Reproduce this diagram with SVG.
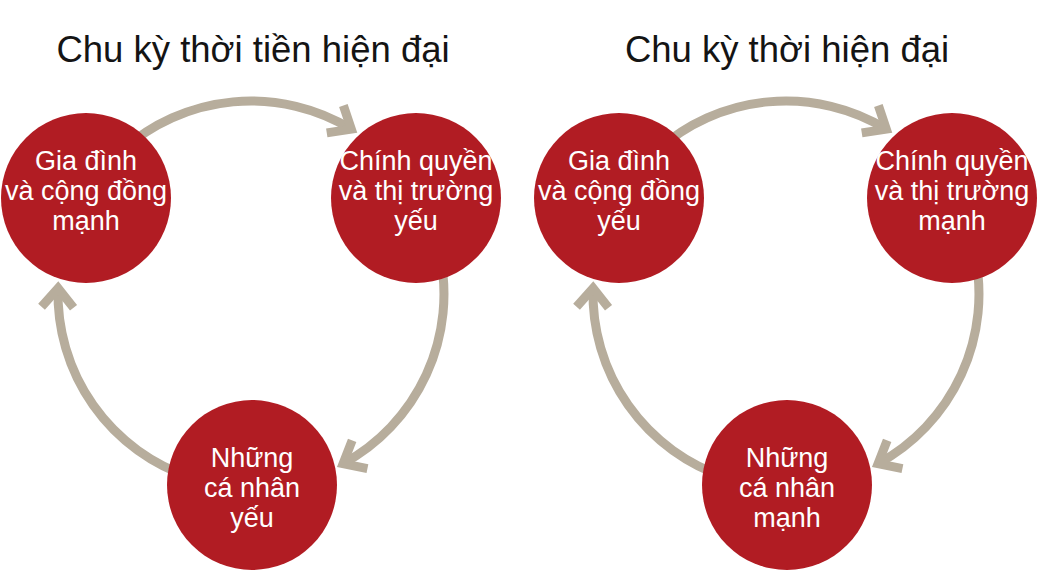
<svg xmlns="http://www.w3.org/2000/svg" width="1038" height="571" viewBox="0 0 1038 571">
<style>
.title{font-family:"Liberation Sans",Arial,sans-serif;font-size:36.5px;fill:#141414;text-anchor:middle}
.node circle{fill:#b11c23}
.node text{font-family:"Liberation Sans",Arial,sans-serif;font-size:27px;fill:#ffffff;text-anchor:middle}
.arc{fill:none;stroke:#b7ad9c;stroke-width:9;marker-end:url(#chev)}
</style>
<defs>
<marker id="chev" markerUnits="userSpaceOnUse" orient="auto" refX="0" refY="0" markerWidth="60" markerHeight="60" overflow="visible">
<path d="M -19,-16 L 0,0 L -19,16" fill="none" stroke="#b7ad9c" stroke-width="9" stroke-linejoin="miter" stroke-miterlimit="10"/>
</marker>
</defs>
<rect width="1038" height="571" fill="#ffffff"/>
<text class="title" x="253" y="62">Chu kỳ thời tiền hiện đại</text>
<text class="title" x="787" y="62">Chu kỳ thời hiện đại</text>
<g id="connectors">
<path class="arc" d="M 121.9,150.6 A 193 193 0 0 1 351.3,129.1"/>
<path class="arc" d="M 439.6,253.2 A 193 193 0 0 1 343.1,463.6"/>
<path class="arc" d="M 191.4,477.6 A 193 193 0 0 1 58.1,288.3"/>
<g transform="translate(535,0)">
<path class="arc" d="M 121.9,150.6 A 193 193 0 0 1 351.3,129.1"/>
<path class="arc" d="M 439.6,253.2 A 193 193 0 0 1 343.1,463.6"/>
<path class="arc" d="M 191.4,477.6 A 193 193 0 0 1 58.1,288.3"/>
</g>
</g>
<g id="node-l1" class="node"><circle cx="86" cy="198" r="85"/>
<text x="86" y="170">Gia đình</text><text x="86" y="200">và cộng đồng</text><text x="86" y="230">mạnh</text></g>
<g id="node-l2" class="node"><circle cx="416" cy="198" r="85"/>
<text x="416" y="170">Chính quyền</text><text x="416" y="200">và thị trường</text><text x="416" y="230">yếu</text></g>
<g id="node-l3" class="node"><circle cx="252" cy="485" r="85"/>
<text x="252" y="467">Những</text><text x="252" y="497">cá nhân</text><text x="252" y="527">yếu</text></g>
<g id="node-r1" class="node"><circle cx="619" cy="198" r="85"/>
<text x="619" y="170">Gia đình</text><text x="619" y="200">và cộng đồng</text><text x="619" y="230">yếu</text></g>
<g id="node-r2" class="node"><circle cx="952" cy="198" r="85"/>
<text x="952" y="170">Chính quyền</text><text x="952" y="200">và thị trường</text><text x="952" y="230">mạnh</text></g>
<g id="node-r3" class="node"><circle cx="787" cy="485" r="85"/>
<text x="787" y="467">Những</text><text x="787" y="497">cá nhân</text><text x="787" y="527">mạnh</text></g>
</svg>
